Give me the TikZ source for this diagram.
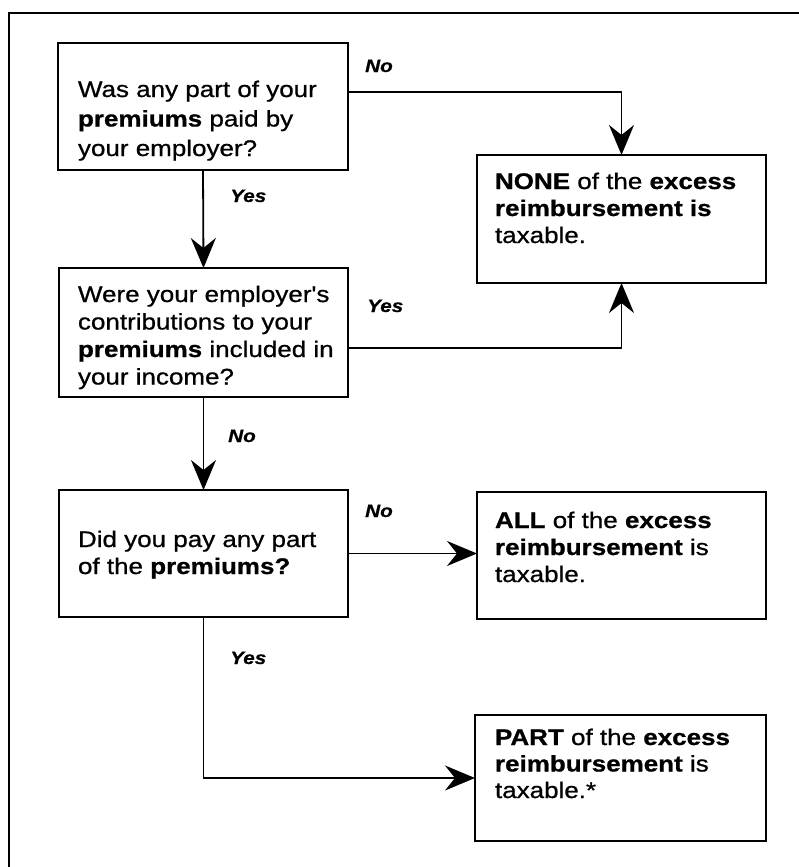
\documentclass[tikz,border=0pt]{standalone}
\usepackage{fontspec}
\setmainfont{Liberation Sans}[Ligatures=TeXOff,FakeStretch=1.15,FakeBold=0.8]
\usetikzlibrary{arrows.meta}
\newcommand\txtlines[2]{{\fontsize{22.6}{#1}\selectfont\begin{tabular}[t]{@{}l@{}}#2\end{tabular}}}
\begin{document}
\begin{tikzpicture}[x=1pt,y=-1pt,
  box/.style={draw, line width=1.8pt, minimum width=#1, inner sep=0pt, outer sep=0pt},
  txt/.style={anchor=base west, inner sep=0pt, outer sep=0pt},
  lab/.style={anchor=base west, inner sep=0pt, font=\fontsize{18}{20}\selectfont\bfseries\itshape},
  arr/.style={line width=1.8pt, -{Stealth[length=30pt,width=25pt,inset=10pt]}},
  ln/.style={line width=1.8pt}]
\useasboundingbox (0,0) rectangle (799,867);
\clip (0,0) rectangle (799,867);
% outer frame (extends past the picture's right and bottom edges)
\draw[ln] (9,880) -- (9,13) -- (815,13);
% boxes
\node[box=290pt, minimum height=127pt] (b1) at (203,106.5) {};
\node[box=289pt, minimum height=129pt] (b2) at (203.5,332.5) {};
\node[box=289pt, minimum height=127pt] (b3) at (203.5,553.5) {};
\node[box=289pt, minimum height=128pt] (none) at (621.5,219) {};
\node[box=289pt, minimum height=127pt] (all) at (621.5,555.5) {};
\node[box=291pt, minimum height=126pt] (part) at (620.5,778) {};
% texts
\node[txt] (t1) at (78,97) {\txtlines{29.5}{Was any part of your\\ \textbf{premiums} paid by\\ your employer?}};
\node[txt] (t2) at (78,302) {\txtlines{27.5}{Were your employer's\\ contributions to your\\ \textbf{premiums} included in\\ your income?}};
\node[txt] (t3) at (78,547) {\txtlines{27}{Did you pay any part\\ of the \textbf{premiums?}}};
\node[txt] (t4) at (495,189) {\txtlines{27}{\textbf{NONE} of the \textbf{excess}\\ \textbf{reimbursement is}\\ taxable.}};
\node[txt] (t5) at (495,528) {\txtlines{27}{\textbf{ALL} of the \textbf{excess}\\ \textbf{reimbursement} is\\ taxable.}};
\node[txt] (t6) at (495,745) {\txtlines{26.5}{\textbf{PART} of the \textbf{excess}\\ \textbf{reimbursement} is\\ taxable.*}};
% connectors
\draw[arr] ([yshift=14.5pt]b1.east) -| (none.north);
\draw[arr] (b1.south) -- (b2.north);
\draw[arr] ([yshift=-15.5pt]b2.east) -| (none.south);
\draw[arr] (b2.south) -- (b3.north);
\draw[arr] (b3.east) -- (b3.east -| all.west);
\draw[arr] (b3.south) |- (part.west);
% labels
\node[lab] (l1) at (365,72) {No};
\node[lab] (l2) at (230,202) {Yes};
\node[lab] (l3) at (367,312) {Yes};
\node[lab] (l4) at (228,442) {No};
\node[lab] (l5) at (365,517) {No};
\node[lab] (l6) at (230,664) {Yes};
\end{tikzpicture}
\end{document}
